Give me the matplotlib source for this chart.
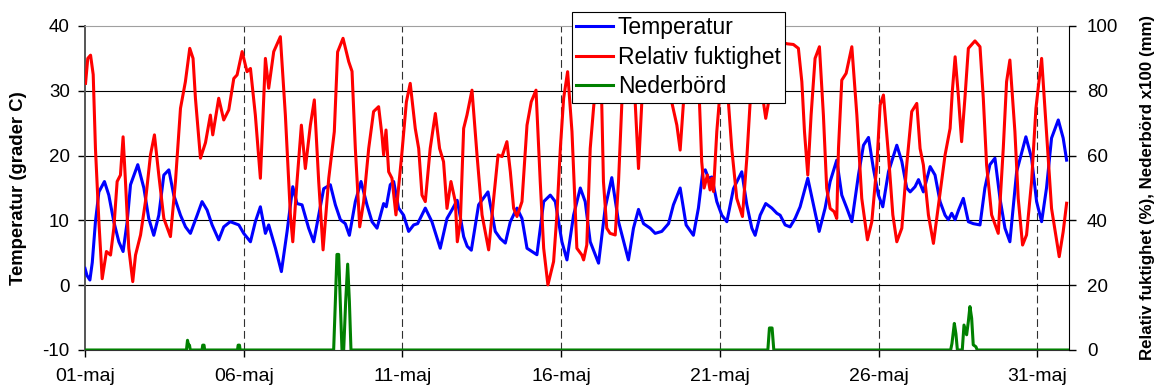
import matplotlib

matplotlib.use("Agg")
import matplotlib.pyplot as plt  # noqa: E402
import numpy as np  # noqa: E402

plt.rcParams["font.family"] = ["Liberation Sans", "DejaVu Sans"]
plt.rcParams["axes.unicode_minus"] = False

# Readings for May, time in hours counted from 01-maj 00:00
temp_hours = [
    0.0, 1.5, 3.7, 5.5, 7.9, 10.5, 14.7, 18.0, 21.8, 25.6, 28.8, 31.9, 34.4, 39.9,
    44.5, 48.2, 52.0, 55.8, 59.6, 63.4, 67.1, 72.2, 76.0, 79.7, 84.8, 88.5, 92.3,
    96.1, 101.1, 104.9, 109.8, 113.7, 116.3, 120.0, 125.1, 128.8, 132.6, 136.4,
    138.9, 144.0, 148.5, 152.8, 157.1, 160.3, 164.1, 169.1, 172.9, 176.7, 180.5,
    185.5, 189.3, 193.1, 196.8, 199.9, 204.4, 208.7, 213.2, 217.0, 220.8, 225.8,
    227.8, 230.8, 233.4, 237.1, 240.9, 244.7, 248.5, 251.5, 257.3, 262.3, 268.6,
    273.7, 277.4, 281.4, 283.8, 286.3, 289.0, 292.1, 297.6, 304.7, 310.2, 314.0,
    317.8, 321.6, 326.6, 330.4, 334.2, 337.9, 341.7, 346.8, 351.8, 355.6, 360.6,
    364.4, 369.4, 374.5, 378.2, 382.0, 388.3, 393.3, 398.3, 403.4, 410.9, 414.7,
    418.5, 422.3, 427.3, 431.1, 436.1, 441.2, 444.9, 450.0, 454.5, 460.0, 463.8,
    467.1, 469.0, 471.4, 473.9, 477.7, 481.5, 485.3, 490.3, 496.6, 500.4, 504.2,
    506.7, 510.5, 514.7, 519.3, 523.1, 525.6, 529.4, 533.1, 536.9, 540.7, 546.5,
    550.8, 555.1, 559.6, 563.4, 568.4, 572.2, 576.0, 579.8, 584.8, 588.6, 592.4,
    596.1, 599.9, 603.2, 607.5, 613.8, 617.6, 621.3, 623.9, 627.6, 630.2, 633.9,
    639.0, 642.7, 646.5, 650.3, 652.8, 655.3, 657.9, 660.5, 664.1, 667.9, 671.6,
    676.7, 680.4, 684.2, 688.0, 691.8, 695.6, 699.3, 704.4, 711.4, 715.7, 719.5,
    723.3, 727.0, 730.8, 735.9, 739.6, 742.2,
]
temp_values = [
    2.6, 1.5, 0.8, 3.5, 9.8, 14.4, 16.0, 13.9, 9.8, 6.7, 5.2, 9.8, 15.5, 18.6,
    15.0, 10.3, 7.7, 10.8, 17.0, 17.8, 13.9, 10.8, 9.0, 8.0, 10.8, 12.9, 11.6,
    9.3, 7.0, 9.0, 9.8, 9.5, 9.3, 8.0, 6.7, 9.8, 12.1, 8.0,
    9.3, 5.7, 2.1, 8.3, 15.2, 12.6, 12.4, 8.8, 6.7, 10.8, 14.9,
    15.5, 12.4, 10.1, 9.5, 7.7, 12.9, 16.0, 12.4, 9.8, 8.8, 12.6,
    12.1, 15.5, 16.0, 11.9, 10.8, 8.3, 9.3, 9.5, 11.9, 9.8, 5.7,
    10.3, 11.6, 13.1, 10.5, 7.5, 6.0, 5.4, 12.4, 14.4, 8.3, 7.2,
    6.5, 9.8, 11.9, 10.3, 5.7, 5.2, 4.7, 12.9, 13.9, 12.9, 6.7,
    3.9, 10.8, 15.0, 12.9, 6.7, 3.4, 11.9, 16.6, 9.8, 3.9, 8.8,
    11.7, 9.5, 8.8, 8.0, 8.3, 9.5, 12.4, 15.0, 9.3, 7.7, 11.9,
    17.5, 17.8, 16.5, 16.7, 12.9, 10.8, 9.8, 14.9, 17.5, 12.4, 8.8,
    7.7, 10.8, 12.6, 11.9, 11.1, 10.8, 9.3, 9.0, 10.3, 12.1, 16.5,
    12.4, 8.3, 11.9, 16.0, 19.3, 13.9, 11.9, 9.8, 17.0, 21.6, 22.8,
    18.0, 13.9, 12.1, 17.5, 21.6, 19.1, 15.0, 14.4, 15.2, 16.3, 14.4,
    18.3, 17.0, 12.9, 10.8, 10.1, 11.1, 10.1, 11.6, 13.4, 9.8, 9.5,
    9.3, 15.0, 18.6, 19.6, 13.4, 8.8, 6.7, 17.5, 22.9, 19.6, 12.9,
    9.8, 15.0, 22.7, 25.5, 22.7, 19.3,
]

rh_hours = [
    0.4, 2.1, 4.2, 6.2, 7.9, 10.5, 13.0, 16.2, 19.3, 21.8, 24.3, 26.8, 28.8, 30.6,
    33.1, 36.1, 38.2, 42.0, 45.7, 49.5, 52.5, 55.8, 59.6, 64.6, 68.4, 72.2, 75.9,
    79.2, 81.7, 83.5, 87.3, 91.1, 94.8, 96.6, 101.1, 104.9, 108.7, 112.5, 115.0,
    118.8, 122.5, 125.1, 128.8, 132.6, 136.4, 138.9, 142.7, 147.7, 151.5, 155.3,
    157.1, 160.3, 163.6, 166.6, 170.4, 173.4, 176.7, 180.0, 184.3, 188.5, 191.0,
    195.1, 199.4, 201.9, 204.4, 207.7, 210.7, 214.5, 218.2, 222.0, 224.5, 225.8,
    227.6, 229.6, 232.1, 235.1, 239.7, 243.0, 245.9, 249.7, 252.3, 254.8, 257.3,
    261.0, 264.9, 268.1, 271.1, 273.7, 276.7, 280.0, 281.5, 283.8, 286.3, 288.8,
    292.6, 296.4, 300.2, 305.2, 309.0, 312.3, 315.3, 319.0, 321.6, 324.1, 326.6,
    330.4, 334.2, 337.4, 341.0, 344.2, 346.8, 350.0, 354.3, 356.8, 359.4, 361.9,
    364.9, 368.2, 371.9, 375.7, 377.0, 379.4, 382.0, 384.5, 388.0, 390.5, 392.0,
    394.5, 397.0, 400.9, 403.4, 405.9, 409.0, 413.0, 416.0, 418.5, 421.0, 425.0,
    430.0, 436.0, 440.0, 443.7, 447.5, 450.0, 452.5, 456.0, 461.0, 464.6, 466.3,
    468.1, 470.6, 472.6, 473.9, 475.2, 477.7, 479.5, 482.5, 486.5, 489.0, 492.8,
    497.1, 500.4, 502.9, 506.5, 511.0, 513.0, 514.7, 516.8, 520.0, 526.0, 531.0,
    535.6, 539.4, 542.0, 544.0, 546.5, 549.0, 552.0, 555.3, 558.3, 560.8, 563.4,
    566.4, 568.4, 569.7, 572.2, 575.5, 579.8, 583.6, 587.3, 591.6, 594.9, 598.7,
    601.2, 603.7, 607.5, 610.8, 613.8, 617.6, 621.3, 625.1, 628.9, 631.4, 633.9,
    637.7, 641.5, 645.3, 650.3, 654.1, 655.8, 657.9, 660.3, 662.8, 665.3, 667.9,
    672.9, 676.7, 679.2, 681.7, 685.5, 690.5, 694.3, 696.8, 699.3, 703.1, 705.6,
    708.9, 711.9, 715.7, 719.0, 723.3, 727.0, 730.8, 736.6, 739.6, 742.2,
]
rh_values = [
    82.3, 90.0, 91.0, 85.0, 62.2, 39.6, 22.0, 30.4, 29.3, 37.6, 52.0, 54.0, 65.8, 52.0,
    31.4, 21.1, 29.3, 35.5, 45.8, 60.2, 66.4, 54.0, 40.6, 35.0, 52.0, 74.6, 82.8,
    93.1, 90.0, 77.7, 59.2, 64.0, 72.5, 66.4, 77.7, 71.0, 74.1, 83.8, 84.9,
    92.1, 85.9, 86.9, 72.5, 53.0, 90.0, 80.8, 92.1, 96.7, 72.5, 41.7,
    33.4, 52.0, 69.4, 56.0, 69.4, 77.2, 52.0, 30.9, 53.0, 67.4, 92.0,
    96.2, 89.0, 86.0, 62.2, 38.0, 45.8, 62.2, 73.6, 75.1, 66.4, 60.2,
    67.9, 55.0, 53.0, 41.7, 61.2, 76.6, 82.3, 68.4, 62.2, 47.8, 45.8,
    62.2, 73.0, 62.2, 58.1, 43.7, 52.0, 45.8, 33.4, 39.6, 68.4, 72.5,
    80.2, 60.2, 41.7, 30.9, 46.8, 60.2, 59.7, 64.3, 55.0, 43.7, 41.2,
    45.8, 69.4, 76.6, 80.2, 52.0, 31.4, 20.1, 27.3, 41.7, 62.2, 77.7,
    85.9, 67.4, 31.4, 29.3, 27.8, 32.4, 62.2, 74.6, 90.0, 80.0, 52.0,
    37.6, 36.0, 35.5, 52.0, 76.0, 92.0, 90.0, 76.4, 56.0, 76.4, 93.0,
    95.0, 93.0, 88.0, 76.4, 69.4, 61.7, 76.4, 92.0, 93.0, 76.4, 58.1,
    50.0, 54.0, 49.4, 53.0, 48.9, 67.4, 76.4, 92.0, 76.4, 62.2, 46.8,
    41.2, 59.2, 76.4, 92.0, 90.0, 76.4, 71.5, 76.4, 92.0, 95.0, 94.5,
    94.3, 93.1, 82.8, 67.4, 54.0, 72.5, 90.0, 93.6, 72.5, 49.9, 43.7,
    42.7, 40.6, 62.2, 83.3, 85.4, 93.6, 72.5, 46.8, 34.0, 39.6, 57.1,
    75.6, 78.7, 60.2, 41.7, 33.4, 37.6, 57.1, 73.6, 76.1, 62.2, 57.1,
    41.7, 32.9, 44.8, 60.2, 68.4, 80.0, 90.5, 78.7, 64.3, 77.7, 93.1,
    95.4, 93.6, 77.7, 57.1, 41.7, 36.0, 62.2, 82.8, 89.5, 67.4, 46.8,
    32.4, 35.5, 52.0, 74.6, 90.0, 67.4, 43.7, 28.8, 36.5, 45.3,
]

# Precipitation in mm x100 (plotted on the right-hand axis)
rain_hours = [
    0.0, 76.7, 77.5, 78.3, 79.0, 79.6, 88.5, 89.0, 90.0, 90.5, 115.3, 115.8, 116.8,
    117.3, 188.0, 189.3, 190.5, 191.8, 193.0, 194.3, 195.6, 197.1, 198.6, 199.9,
    201.1, 516.3, 517.5, 519.5, 520.8, 654.5, 655.5, 657.3, 658.5, 659.6, 663.3,
    664.6, 666.6, 667.9, 669.1, 670.4, 671.6, 673.6, 674.6, 744.0,
]
rain_values = [
    0.0, 0.0, 3.0, 1.5, 1.5, 0.0, 0.0, 1.5, 1.5, 0.0, 0.0, 1.5, 1.5,
    0.0, 0.0, 15.0, 29.5, 29.5, 15.0, 0.0, 0.0, 15.0, 26.5, 15.0,
    0.0, 0.0, 6.8, 6.8, 0.0, 0.0, 2.0, 8.2, 5.0, 0.0, 0.0,
    7.7, 4.7, 8.8, 13.4, 9.8, 1.6, 1.0, 0.0, 0.0,
]

tick_days = [0, 5, 10, 15, 20, 25, 30]
tick_labels = ["01-maj", "06-maj", "11-maj", "16-maj", "21-maj", "26-maj", "31-maj"]

C_TEMP = "#0000ff"
C_RH = "#ff0000"
C_RAIN = "#008000"

fig = plt.figure(figsize=(11.55, 3.87), dpi=100)
ax = fig.add_axes([85 / 1155, 37 / 387, 984 / 1155, 324 / 387])
ax2 = ax.twinx()

ax.plot(np.array(temp_hours) / 24, temp_values, color=C_TEMP, lw=2.2,
        solid_joinstyle="round", label="Temperatur", zorder=3)
ax2.plot(np.array(rain_hours) / 24, rain_values, color=C_RAIN, lw=2.2,
         solid_joinstyle="round", label="Nederbörd", zorder=2)
ax2.plot(np.array(rh_hours) / 24, rh_values, color=C_RH, lw=2.2,
         solid_joinstyle="round", label="Relativ fuktighet", zorder=3)

ax.set_xlim(0, 31)
ax.set_ylim(-10, 40)
ax2.set_ylim(0, 100)
ax.set_xticks(tick_days)
ax.set_xticklabels(tick_labels)
ax.set_yticks(range(-10, 41, 10))
ax2.set_yticks(range(0, 101, 20))

ax.grid(axis="y", color="black", lw=0.8)
ax.grid(axis="x", color="#303030", lw=0.8, linestyle=(0, (7, 3.6)))
for gl in (ax.get_ygridlines()[0], ax.get_ygridlines()[-1], ax.get_xgridlines()[0]):
    gl.set_visible(False)

ax.tick_params(axis="y", direction="out", length=5, width=1, labelsize=13.5, pad=6)
ax2.tick_params(axis="y", direction="out", length=5, width=1, labelsize=13.5, pad=8)
ax.tick_params(axis="x", direction="out", length=5, width=1, labelsize=14, pad=8)

for a in (ax, ax2):
    for s in a.spines.values():
        s.set_visible(False)
ax.spines["left"].set_visible(True)
ax.spines["left"].set_color("#555555")
ax.spines["left"].set_linewidth(1.4)
ax.spines["top"].set_visible(True)
ax.spines["top"].set_color("#a0a0a0")
ax.spines["bottom"].set_visible(True)
ax.spines["bottom"].set_color("#333333")
ax2.spines["right"].set_visible(True)
ax2.spines["right"].set_color("black")

ax.set_ylabel("Temperatur (grader C)", fontsize=13.3, fontweight="bold")
ax.yaxis.set_label_coords(-0.059, 0.5)
ax2.set_ylabel("Relativ fuktighet (%), Nederbörd x100 (mm)", fontsize=12.2,
               fontweight="bold", rotation=90)
ax2.yaxis.set_label_coords(1.072, 0.5)

h1, l1 = ax.get_legend_handles_labels()
h2, l2 = ax2.get_legend_handles_labels()
handles = h1 + [h2[1], h2[0]]
labels = l1 + [l2[1], l2[0]]
leg = ax2.legend(handles, labels, loc="upper left", bbox_to_anchor=(0.4946, 1.0441),
                 borderaxespad=0, fontsize=16.5, frameon=True, fancybox=False,
                 edgecolor="black", framealpha=1, handlelength=1.6,
                 handletextpad=0.22, borderpad=0.2, labelspacing=0.28)
leg.get_frame().set_linewidth(0.8)

fig.savefig("out.png", dpi=100)
